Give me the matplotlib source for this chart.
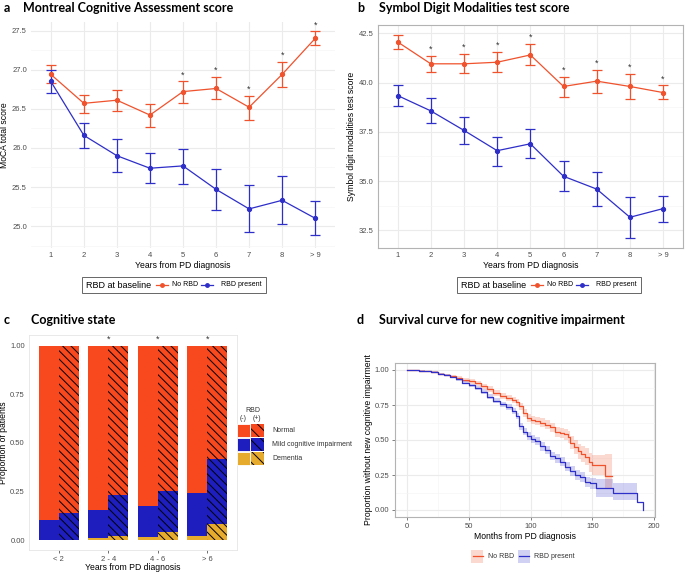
import matplotlib
matplotlib.use('Agg')
import matplotlib.pyplot as plt
import numpy as np
from matplotlib.patches import Rectangle
from matplotlib.lines import Line2D
from matplotlib.ticker import MultipleLocator

plt.rcParams['font.family'] = ['Liberation Sans', 'DejaVu Sans']
plt.rcParams['hatch.linewidth'] = 0.7

# ---------------- data ----------------
years = ['1', '2', '3', '4', '5', '6', '7', '8', '> 9']

moca_no = [26.94, 26.57, 26.61, 26.42, 26.72, 26.76, 26.52, 26.94, 27.40]
moca_no_lo = [26.83, 26.45, 26.47, 26.27, 26.58, 26.62, 26.36, 26.78, 27.32]
moca_no_hi = [27.06, 26.68, 26.74, 26.56, 26.85, 26.91, 26.67, 27.10, 27.49]
moca_rbd = [26.85, 26.16, 25.90, 25.74, 25.77, 25.47, 25.22, 25.33, 25.10]
moca_rbd_lo = [26.70, 26.00, 25.69, 25.55, 25.54, 25.21, 24.93, 25.03, 24.88]
moca_rbd_hi = [27.00, 26.32, 26.11, 25.93, 25.99, 25.73, 25.52, 25.64, 25.32]
moca_sig = [False, False, False, False, True, True, True, True, True]

sdmt_no = [42.06, 40.95, 40.95, 41.03, 41.40, 39.80, 40.07, 39.80, 39.49]
sdmt_no_lo = [41.69, 40.52, 40.46, 40.52, 40.88, 39.26, 39.46, 39.16, 39.16]
sdmt_no_hi = [42.40, 41.35, 41.44, 41.54, 41.98, 40.29, 40.66, 40.42, 39.85]
sdmt_rbd = [39.34, 38.56, 37.57, 36.54, 36.89, 35.24, 34.59, 33.16, 33.60]
sdmt_rbd_lo = [38.80, 37.92, 36.88, 35.78, 36.15, 34.49, 33.73, 32.12, 32.92]
sdmt_rbd_hi = [39.85, 39.22, 38.23, 37.26, 37.65, 36.00, 35.44, 34.17, 34.26]
sdmt_sig = [False, True, True, True, True, True, True, True, True]

groups = ['< 2', '2 - 4', '4 - 6', '> 6']
normal_neg = [0.898, 0.845, 0.826, 0.758]
mci_neg = [0.099, 0.145, 0.155, 0.218]
dem_neg = [0.003, 0.010, 0.019, 0.024]
normal_pos = [0.860, 0.768, 0.747, 0.580]
mci_pos = [0.140, 0.212, 0.212, 0.338]
dem_pos = [0.000, 0.020, 0.041, 0.082]
cog_sig = [False, True, True, True]

km_no_t = [0, 5, 10, 15, 20, 25, 30, 35, 40, 45, 50, 55, 60, 65, 70, 75, 80, 85, 88, 91, 94, 97, 100,
           104, 108, 112, 116, 120, 124, 127, 130, 132, 135, 138, 141, 144, 147, 150, 155, 160, 166]
km_no_s = [1.0, .998, .995, .99, .985, .975, .965, .955, .945, .93, .918, .905, .885, .865, .835, .815,
           .80, .785, .77, .74, .695, .66, .645, .635, .625, .61, .59, .56, .55, .54, .52, .48, .45, .42,
           .40, .38, .34, .32, .32, .24, .24]
km_no_lo = [1.0, .996, .992, .986, .98, .968, .957, .945, .934, .917, .903, .889, .867, .846, .814, .793,
            .777, .761, .745, .714, .667, .631, .615, .604, .593, .577, .555, .524, .512, .50, .477, .434,
            .40, .367, .344, .32, .275, .25, .25, .155, .155]
km_no_hi = [1.0, 1.0, .998, .994, .99, .982, .973, .965, .956, .943, .933, .921, .903, .884, .856, .837,
            .823, .809, .795, .766, .723, .689, .675, .666, .657, .643, .625, .596, .588, .58, .563, .526,
            .50, .473, .456, .44, .405, .39, .39, .40, .40]

km_rbd_t = [0, 5, 10, 15, 20, 25, 30, 35, 40, 45, 50, 55, 60, 65, 70, 75, 80, 85, 88, 91, 94, 97, 100,
            104, 108, 112, 116, 120, 124, 128, 132, 136, 140, 144, 148, 153, 160, 167, 175, 186, 191]
km_rbd_s = [1.0, .998, .995, .99, .985, .975, .962, .95, .935, .91, .89, .87, .845, .81, .78, .755, .735,
            .71, .67, .60, .56, .53, .51, .49, .455, .43, .385, .37, .345, .31, .28, .25, .235, .20, .19,
            .155, .155, .12, .12, .06, 0.0]
km_rbd_lo = [1.0, .996, .992, .986, .98, .969, .955, .942, .925, .898, .877, .856, .829, .792, .761, .735,
             .714, .688, .647, .575, .534, .503, .482, .461, .425, .40, .354, .338, .312, .276, .245, .214,
             .198, .162, .152, .09, .09, .07, .07, .06, 0.0]
km_rbd_hi = [1.0, 1.0, .998, .994, .99, .981, .969, .958, .945, .922, .903, .884, .861, .828, .799, .775,
             .756, .732, .693, .625, .586, .557, .538, .519, .485, .46, .416, .402, .378, .344, .315, .286,
             .272, .238, .228, .225, .225, .19, .19, .06, 0.0]

# ---------------- style ----------------
C_NO = '#F0522D'
C_RBD = '#2E2EC9'
C_NORMAL = '#F8481E'
C_MCI = '#1E1EBE'
C_DEM = '#E6AA2D'
TICKC = '#4D4D4D'
GRID = '#EBEBEB'
GRIDMIN = '#F5F5F5'
TITLEFONT = ['Lato', 'DejaVu Sans']
TICKSIZE = 5.5

W, H = 685, 573
fig = plt.figure(figsize=(W / 100, H / 100), dpi=100)


def axes_px(l, t, r, b):
    return fig.add_axes([l / W, 1 - b / H, (r - l) / W, (b - t) / H])


def ftext(x, y, s, **kw):
    return fig.text(x / W, 1 - y / H, s, **kw)


def title(x_letter, x_text, y, letter, text):
    ftext(x_letter, y, letter, fontsize=9, fontweight='bold', family=TITLEFONT, va='center')
    ftext(x_text, y, text, fontsize=9, fontweight='bold', family=TITLEFONT, va='center')


def line_panel(ax, no, no_lo, no_hi, rbd, rbd_lo, rbd_hi, sig, ylim, major, minor, ylabel, border):
    x = np.arange(1, len(years) + 1)
    for m, lo, hi, c in [(no, no_lo, no_hi, C_NO), (rbd, rbd_lo, rbd_hi, C_RBD)]:
        m = np.array(m); lo = np.array(lo); hi = np.array(hi)
        ax.errorbar(x, m, yerr=[m - lo, hi - m], color=c, marker='o', ms=2.8, lw=0.9,
                    elinewidth=0.9, capsize=3.5, capthick=0.9, zorder=3)
    for xi, s, h in zip(x, sig, no_hi):
        if s:
            ax.annotate('*', (xi, h), xytext=(0, 1.5), textcoords='offset points',
                        ha='center', va='bottom', fontsize=6.5, color='#333333')
    ax.set_xlim(0.4, len(years) + 0.6)
    ax.set_ylim(*ylim)
    ax.set_xticks(x)
    ax.set_xticklabels(years)
    ax.yaxis.set_major_locator(MultipleLocator(major))
    ax.yaxis.set_minor_locator(MultipleLocator(minor))
    ax.yaxis.set_major_formatter(matplotlib.ticker.FormatStrFormatter('%.1f'))
    ax.grid(True, which='major', color=GRID, lw=0.8)
    ax.grid(True, which='minor', axis='y', color=GRIDMIN, lw=0.5)
    ax.set_axisbelow(True)
    ax.tick_params(which='both', length=0, labelsize=TICKSIZE, labelcolor=TICKC, pad=3)
    for sp in ax.spines.values():
        sp.set_visible(border)
        sp.set_color('#B3B3B3')
        sp.set_linewidth(0.8)
    ax.set_xlabel('Years from PD diagnosis', fontsize=6.2, labelpad=1.5)
    ax.set_ylabel(ylabel, fontsize=6.2, labelpad=2)


def line_legend(x0):
    y0, y1 = 277, 293
    yc = (y0 + y1) / 2
    fig.patches.append(Rectangle((x0 / W, 1 - y1 / H), 183.5 / W, (y1 - y0) / H, transform=fig.transFigure,
                                 fill=False, edgecolor='#666666', lw=0.7))
    ftext(x0 + 4, yc, 'RBD at baseline', fontsize=6.5, va='center')
    for (a, b, tx, lab, c) in [(74, 86, 90, 'No RBD', C_NO), (119, 131, 139, 'RBD present', C_RBD)]:
        fig.lines.append(Line2D([(x0 + a) / W, (x0 + b) / W], [1 - yc / H, 1 - yc / H], color=c, lw=0.9,
                                transform=fig.transFigure))
        fig.lines.append(Line2D([(x0 + (a + b) / 2) / W], [1 - yc / H], color=c, marker='o', ms=2.5,
                                transform=fig.transFigure))
        ftext(x0 + tx, yc, lab, fontsize=5, va='center')


# ---------------- panel a ----------------
axa = axes_px(31, 22, 335, 248)
line_panel(axa, moca_no, moca_no_lo, moca_no_hi, moca_rbd, moca_rbd_lo, moca_rbd_hi, moca_sig,
           (24.72, 27.61), 0.5, 0.25, 'MoCA total score', False)
title(4, 22.7, 8, 'a', 'Montreal Cognitive Assessment score')
line_legend(82)

# ---------------- panel b ----------------
axb = axes_px(377.7, 25, 683, 248)
line_panel(axb, sdmt_no, sdmt_no_lo, sdmt_no_hi, sdmt_rbd, sdmt_rbd_lo, sdmt_rbd_hi, sdmt_sig,
           (31.6, 42.92), 2.5, 1.25, 'Symbol digit modalities test score', True)
title(357, 379, 8, 'b', 'Symbol Digit Modalities test score')
line_legend(457)

# ---------------- panel c ----------------
axc = axes_px(29, 335, 237, 550)
xg = np.arange(1, len(groups) + 1)
hatch = '\\\\\\\\'
for off, nrm, mci, dem, h in [(-0.2, normal_neg, mci_neg, dem_neg, None),
                              (0.2, normal_pos, mci_pos, dem_pos, hatch)]:
    dem = np.array(dem); mci = np.array(mci); nrm = np.array(nrm)
    kw = dict(width=0.4, linewidth=0, edgecolor='black', hatch=h)
    axc.bar(xg + off, dem, color=C_DEM, **kw)
    axc.bar(xg + off, mci, bottom=dem, color=C_MCI, **kw)
    axc.bar(xg + off, nrm, bottom=dem + mci, color=C_NORMAL, **kw)
for xi, s in zip(xg, cog_sig):
    if s:
        axc.text(xi, 1.012, '*', ha='center', va='bottom', fontsize=6.5, color='#333333')
axc.set_xlim(0.4, 4.6)
axc.set_ylim(-0.05, 1.055)
axc.set_xticks(xg)
axc.set_xticklabels(groups)
axc.set_yticks([0, 0.25, 0.5, 0.75, 1.0])
axc.set_yticklabels(['0.00', '0.25', '0.50', '0.75', '1.00'])
axc.tick_params(axis='x', length=2, width=0.5, color='#333333', labelsize=TICKSIZE, labelcolor=TICKC, pad=2)
axc.tick_params(axis='y', length=0, labelsize=TICKSIZE, labelcolor=TICKC, pad=3)
for sp in axc.spines.values():
    sp.set_color('#E5E5E5')
    sp.set_linewidth(0.6)
axc.set_xlabel('Years from PD diagnosis', fontsize=6.2, labelpad=0.5)
axc.set_ylabel('Proportion of patients', fontsize=6.2, labelpad=1.5)
title(4, 30.7, 320, 'c', 'Cognitive state')

# legend for c
ftext(253, 411, 'RBD', fontsize=5, ha='center', va='center', color='#333333')
ftext(243.5, 418, '(-)', fontsize=5, ha='center', va='center', color='#333333')
ftext(256.5, 418, '(+)', fontsize=5, ha='center', va='center', color='#333333')
for (yt, yb, col, lab) in [(424, 437, C_NORMAL, 'Normal'), (438, 451, C_MCI, 'Mild cognitive impairment'),
                           (452, 465, C_DEM, 'Dementia')]:
    fig.patches.append(Rectangle((237 / W, 1 - yb / H), 13 / W, (yb - yt) / H, transform=fig.transFigure,
                                 facecolor=col, edgecolor='white', lw=0.6))
    fig.patches.append(Rectangle((250.5 / W, 1 - yb / H), 13 / W, (yb - yt) / H, transform=fig.transFigure,
                                 facecolor=col, edgecolor='black', lw=0, hatch='\\\\\\'))
    ftext(272, (yt + yb) / 2, lab, fontsize=5, va='center', color='#333333')

# ---------------- panel d ----------------
axd = axes_px(394.9, 363, 655, 517)
for t, s, lo, hi, c, a in [(km_no_t, km_no_s, km_no_lo, km_no_hi, C_NO, 0.22),
                           (km_rbd_t, km_rbd_s, km_rbd_lo, km_rbd_hi, C_RBD, 0.22)]:
    axd.fill_between(t, lo, hi, step='post', color=c, alpha=a, lw=0)
for t, s, c in [(km_no_t, km_no_s, C_NO), (km_rbd_t, km_rbd_s, C_RBD)]:
    axd.step(t, s, where='post', color=c, lw=0.9)
axd.set_xlim(-9.55, 200.55)
axd.set_ylim(-0.05, 1.05)
axd.set_xticks([0, 50, 100, 150, 200])
axd.set_yticks([0, 0.25, 0.5, 0.75, 1.0])
axd.set_yticklabels(['0.00', '0.25', '0.50', '0.75', '1.00'])
axd.xaxis.set_minor_locator(MultipleLocator(25))
axd.yaxis.set_minor_locator(MultipleLocator(0.125))
axd.grid(True, which='major', color=GRID, lw=0.8)
axd.grid(True, which='minor', color=GRIDMIN, lw=0.5)
axd.set_axisbelow(True)
axd.tick_params(which='major', length=2, width=0.5, color='#4D4D4D', labelsize=TICKSIZE, labelcolor=TICKC, pad=2)
axd.tick_params(which='minor', length=0)
for sp in axd.spines.values():
    sp.set_color('#B3B3B3')
    sp.set_linewidth(0.8)
axd.set_xlabel('Months from PD diagnosis', fontsize=6.2, labelpad=1.5)
axd.set_ylabel('Proportion without new cognitive impairment', fontsize=6.2, labelpad=1.5)
title(357, 379, 320, 'd', 'Survival curve for new cognitive impairment')

# legend for d
for (x0, lab, c) in [(471.5, 'No RBD', C_NO), (518, 'RBD present', C_RBD)]:
    fig.patches.append(Rectangle((x0 / W, 1 - 562.5 / H), 12 / W, 13 / H, transform=fig.transFigure,
                                 facecolor=c, alpha=0.22, lw=0))
    fig.lines.append(Line2D([(x0 + 1) / W, (x0 + 11) / W], [1 - 556 / H, 1 - 556 / H], color=c, lw=0.9,
                            transform=fig.transFigure))
    ftext(x0 + 16.5, 556, lab, fontsize=5, va='center', color='#333333')

fig.savefig('out.png', dpi=100)
